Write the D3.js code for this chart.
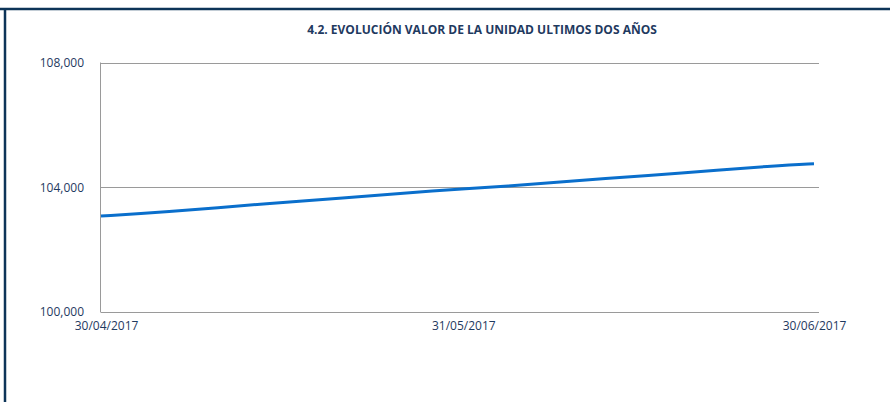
<!DOCTYPE html>
<html lang="es">
<head>
<meta charset="utf-8">
<style>
  html, body { margin: 0; padding: 0; background: #fff; }
  svg { display: block; }
  .eje text { fill: #1f3a5f; font-size: 12px; font-family: 'Open Sans', 'Noto Sans', sans-serif; }
  .title { fill: #1f3a5f; font-size: 12px; font-weight: bold; font-family: 'Open Sans', 'Noto Sans', sans-serif; }
</style>
<script src="https://cdn.jsdelivr.net/npm/d3@7"></script>
</head>
<body>
<div id="chart"></div>
<script>
// fechas y valores
var fechas = ["30/04/2017", "05/05/2017", "15/05/2017", "20/05/2017", "29/05/2017",
              "03/06/2017", "13/06/2017", "18/06/2017", "27/06/2017", "30/06/2017"];
var valores = [103078, 103184, 103504, 103632, 103911,
               104007, 104306, 104434, 104703, 104755];
var yTicks = [100000, 104000, 108000];
var xTicks = ["30/04/2017", "31/05/2017", "30/06/2017"];
var titulo = "4.2. EVOLUCIÓN VALOR DE LA UNIDAD ULTIMOS DOS AÑOS";

var width = 890, height = 402,
    margin = {top: 62.5, left: 101, right: 71, bottom: 90};

var parse = d3.timeParse("%d/%m/%Y");
var data = fechas.map(function(f, i) { return {fecha: parse(f), valor: valores[i]}; });

var svg = d3.select("#chart").append("svg")
    .attr("width", width)
    .attr("height", height);

// marco
svg.append("line").attr("x1", 0).attr("x2", width).attr("y1", 9).attr("y2", 9)
    .attr("stroke", "#0d3458").attr("stroke-width", 2.5);
svg.append("line").attr("x1", 5).attr("x2", 5).attr("y1", 8).attr("y2", height)
    .attr("stroke", "#0d3458").attr("stroke-width", 2.5);

var x = d3.scaleTime()
    .domain([parse("30/04/2017"), parse("30/06/2017")])
    .range([margin.left, 814]);
var plotRight = width - margin.right; // 819
var y = d3.scaleLinear()
    .domain([100000, 108000])
    .range([height - margin.bottom, margin.top]);

// rejilla
svg.append("g").selectAll("line").data(yTicks).enter().append("line")
    .attr("x1", margin.left).attr("x2", plotRight)
    .attr("y1", function(d) { return Math.round(y(d)) + 0.5; })
    .attr("y2", function(d) { return Math.round(y(d)) + 0.5; })
    .attr("stroke", "#9a9a9a").attr("stroke-width", 1);
svg.append("line")
    .attr("x1", margin.left - 0.5).attr("x2", margin.left - 0.5)
    .attr("y1", y(108000)).attr("y2", y(100000) + 0.5)
    .attr("stroke", "#9a9a9a");

var fmt = d3.format(",");
var yAxis = svg.append("g").attr("class", "eje")
    .attr("transform", "translate(" + (margin.left - 17) + ",0)")
    .call(d3.axisLeft(y).tickValues(yTicks).tickFormat(fmt).tickSize(0).tickPadding(0));
yAxis.attr("font-family", null).attr("font-size", null);
yAxis.select(".domain").remove();

var xAxis = svg.append("g").attr("class", "eje")
    .attr("transform", "translate(0," + (y(100000) + 5) + ")")
    .call(d3.axisBottom(x).tickValues(xTicks.map(parse))
        .tickFormat(d3.timeFormat("%d/%m/%Y")).tickSize(0).tickPadding(4));
xAxis.attr("font-family", null).attr("font-size", null);
xAxis.select(".domain").remove();
xAxis.selectAll(".tick text").attr("dx", function(d, i) { return i === 0 ? 5 : 0; });

var line = d3.line()
    .x(function(d) { return x(d.fecha); })
    .y(function(d) { return y(d.valor); })
    .curve(d3.curveBasis);

svg.append("path").datum(data)
    .attr("d", line)
    .attr("fill", "none")
    .attr("stroke", "#0a6fcc")
    .attr("stroke-width", 3);

svg.append("text").attr("class", "title")
    .attr("x", 482).attr("y", 34)
    .attr("text-anchor", "middle")
    .text(titulo);
</script>
</body>
</html>
